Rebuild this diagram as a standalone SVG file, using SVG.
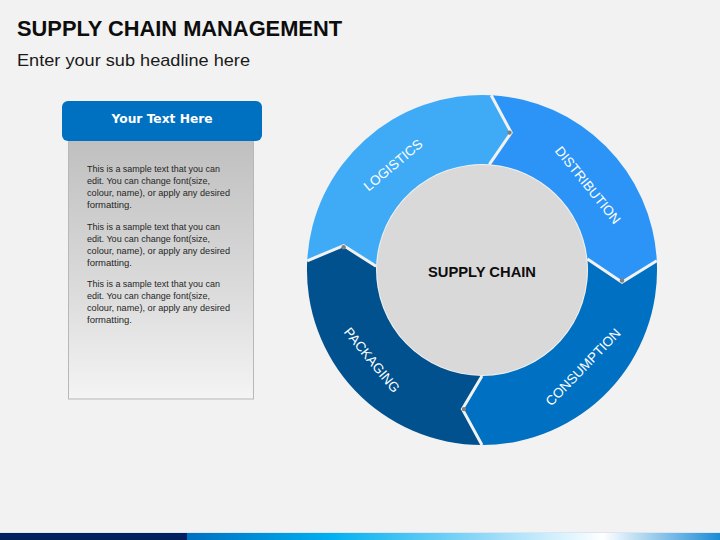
<svg xmlns="http://www.w3.org/2000/svg" width="720" height="540" viewBox="0 0 720 540">
  <defs>
    <linearGradient id="panelGrad" x1="0" y1="0" x2="0" y2="1">
      <stop offset="0" stop-color="#BFBFBF"/>
      <stop offset="0.6" stop-color="#DCDCDC"/>
      <stop offset="1" stop-color="#F4F4F4"/>
    </linearGradient>
    <linearGradient id="barGrad" x1="187" y1="0" x2="720" y2="0" gradientUnits="userSpaceOnUse">
      <stop offset="0" stop-color="#0070C0"/>
      <stop offset="0.27" stop-color="#00B0F0"/>
      <stop offset="0.55" stop-color="#8ED8F8"/>
      <stop offset="0.78" stop-color="#FFFFFF"/>
      <stop offset="1" stop-color="#1A8BD6"/>
    </linearGradient>
    <style>
      .title { font-family: "Liberation Sans", Arial, sans-serif; font-weight: bold; font-size: 22px; fill: #0D0D0D; }
      .sub { font-family: "Liberation Sans", Arial, sans-serif; font-size: 17px; fill: #1A1A1A; }
      .hdr { font-family: "DejaVu Sans", Verdana, sans-serif; font-weight: bold; font-size: 12px; fill: #FFFFFF; }
      .body { font-family: "Liberation Sans", Arial, sans-serif; font-size: 9.5px; fill: #262626; }
      .seg-label { font-family: "Liberation Sans", Arial, sans-serif; font-size: 13.5px; fill: #FFFFFF; text-anchor: middle; }
      .center { font-family: "Liberation Sans", Arial, sans-serif; font-weight: bold; font-size: 15px; fill: #0D0D0D; text-anchor: middle; }
      .sep { fill: none; stroke: #F2F2F2; stroke-width: 3; stroke-linejoin: miter; }
      .tip { fill: #7F7F7F; }
    </style>
  </defs>

  <rect x="0" y="0" width="720" height="540" fill="#F2F2F2"/>

  <g id="title">
    <text class="title" x="17" y="36" textLength="325" lengthAdjust="spacingAndGlyphs">SUPPLY CHAIN MANAGEMENT</text>
    <text class="sub" x="17" y="66" textLength="233" lengthAdjust="spacingAndGlyphs">Enter your sub headline here</text>
  </g>

  <g id="text-panel">
    <rect x="68.5" y="138" width="185" height="261" fill="url(#panelGrad)" stroke="#B8B8B8" stroke-width="1"/>
    <rect x="62" y="101" width="200" height="40" rx="6" ry="6" fill="#0070C0"/>
    <text class="hdr" x="162" y="123" text-anchor="middle" textLength="101" lengthAdjust="spacingAndGlyphs">Your Text Here</text>
    <text class="body" x="87" y="171.5" textLength="133" lengthAdjust="spacingAndGlyphs">This is a sample text that you can</text>
    <text class="body" x="87" y="183.5" textLength="123" lengthAdjust="spacingAndGlyphs">edit. You can change font(size,</text>
    <text class="body" x="87" y="195.5" textLength="143" lengthAdjust="spacingAndGlyphs">colour, name), or apply any desired</text>
    <text class="body" x="87" y="207.5" textLength="45" lengthAdjust="spacingAndGlyphs">formatting.</text>
    <text class="body" x="87" y="230" textLength="133" lengthAdjust="spacingAndGlyphs">This is a sample text that you can</text>
    <text class="body" x="87" y="242" textLength="123" lengthAdjust="spacingAndGlyphs">edit. You can change font(size,</text>
    <text class="body" x="87" y="254" textLength="143" lengthAdjust="spacingAndGlyphs">colour, name), or apply any desired</text>
    <text class="body" x="87" y="266" textLength="45" lengthAdjust="spacingAndGlyphs">formatting.</text>
    <text class="body" x="87" y="287" textLength="133" lengthAdjust="spacingAndGlyphs">This is a sample text that you can</text>
    <text class="body" x="87" y="299" textLength="123" lengthAdjust="spacingAndGlyphs">edit. You can change font(size,</text>
    <text class="body" x="87" y="311" textLength="143" lengthAdjust="spacingAndGlyphs">colour, name), or apply any desired</text>
    <text class="body" x="87" y="323" textLength="45" lengthAdjust="spacingAndGlyphs">formatting.</text>
  </g>

  <g id="logistics">
    <path d="M307.2,260.8 A175,175 0 0 1 491.2,95.2 L511.2,132.6 L489.4,164.3 A106,106 0 0 0 376.1,266.3 L343.6,245.6 Z" fill="#3FABF7"/>
    <text class="seg-label" transform="translate(393,165) rotate(-40)" x="0" y="4.8">LOGISTICS</text>
  </g>
  <g id="distribution">
    <path d="M491.2,95.2 A175,175 0 0 1 656.8,260.8 L622,282.2 L587.4,258.9 A106,106 0 0 0 489.4,164.3 L511.2,132.6 Z" fill="#2B94F6"/>
    <text class="seg-label" transform="translate(588,185) rotate(51)" x="0" y="4.8">DISTRIBUTION</text>
  </g>
  <g id="consumption">
    <path d="M656.8,260.8 A175,175 0 0 1 482,445 L462.4,409.1 L482,376 A106,106 0 0 0 587.4,258.9 L622,282.2 Z" fill="#0070C2"/>
    <text class="seg-label" transform="translate(583,367) rotate(-46)" x="0" y="4.8">CONSUMPTION</text>
  </g>
  <g id="packaging">
    <path d="M482,445 A175,175 0 0 1 307.2,260.8 L343.6,245.6 L376.1,266.3 A106,106 0 0 0 482,376 L462.4,409.1 Z" fill="#00518E"/>
    <text class="seg-label" transform="translate(372,360) rotate(50.7)" x="0" y="4.8">PACKAGING</text>
  </g>

  <g id="separators">
    <polyline class="sep" points="491.2,95.2 511.2,132.6 489.4,164.3"/>
    <polyline class="sep" points="656.8,260.8 622,282.2 587.4,258.9"/>
    <polyline class="sep" points="482,445 462.4,409.1 482,376"/>
    <polyline class="sep" points="307.2,260.8 343.6,245.6 376.1,266.3"/>
    <circle class="tip" cx="509.5" cy="132.6" r="2.2"/>
    <circle class="tip" cx="622" cy="280.5" r="2.2"/>
    <circle class="tip" cx="464" cy="409.1" r="2.2"/>
    <circle class="tip" cx="343.6" cy="247.3" r="2.2"/>
  </g>

  <g id="supply-chain">
    <circle cx="482" cy="270" r="105" fill="#D9D9D9"/>
    <text class="center" x="482" y="277" textLength="108" lengthAdjust="spacingAndGlyphs">SUPPLY CHAIN</text>
  </g>

  <g id="footer-bar">
    <rect x="0" y="532" width="720" height="1" fill="#DDE6EE"/>
    <rect x="0" y="533" width="187" height="7" fill="#002060"/>
    <rect x="187" y="533" width="533" height="7" fill="url(#barGrad)"/>
  </g>
</svg>
